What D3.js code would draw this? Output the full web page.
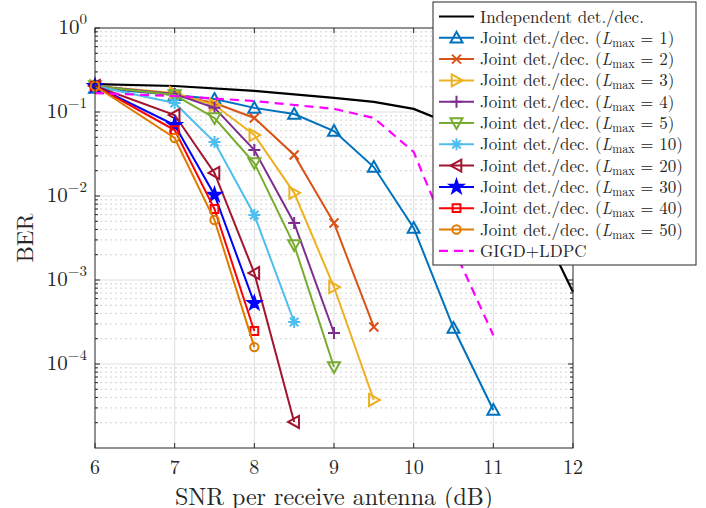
<!DOCTYPE html>
<meta charset="utf-8">
<style>
body { margin: 0; background: #fff; }
text { font-family: "Latin Modern Roman", "CMU Serif", "DejaVu Serif", serif; fill: #262626; }
.grid-major line { stroke: #dedede; stroke-width: 1; }
.grid-minor line { stroke: #d2d2d2; stroke-width: 1; stroke-dasharray: 2,3; }
.series path.line { fill: none; stroke-width: 2; }
</style>
<svg width="706" height="508"></svg>
<script src="https://d3js.org/d3.v7.min.js"></script>
<script>

// SNR grid (dB)
var jointSnr = [6, 7, 7.5, 8, 8.5, 9, 9.5, 10, 10.5, 11];
var indepSnr = [6, 7, 8, 9, 9.5, 10, 10.5, 11, 11.5, 12];
var gigdSnr = [6, 7, 8, 9, 9.5, 10, 10.5, 11];

// BER values
var indepBer = [0.215, 0.204, 0.178, 0.147, 0.132, 0.109, 0.070, 0.0268, 0.0068, 7.2e-4];
var gigdBer = [0.168, 0.155, 0.135, 0.109, 0.0849, 0.0334, 0.0024, 2.2e-4];
var berL1 = [0.193, 0.159, 0.143, 0.112, 0.0947, 0.0594, 0.0221, 0.00416, 2.68e-4, 2.83e-5];
var berL2 = [0.204, 0.159, 0.128, 0.0849, 0.0308, 0.00477, 2.76e-4];
var berL3 = [0.204, 0.168, 0.121, 0.0532, 0.0109, 8.25e-4, 3.73e-5];
var berL4 = [0.204, 0.164, 0.112, 0.0353, 0.00477, 2.34e-4];
var berL5 = [0.204, 0.159, 0.0849, 0.0247, 0.00261, 9.2e-5];
var berL10 = [0.204, 0.128, 0.0439, 0.00594, 3.16e-4];
var berL20 = [0.204, 0.092, 0.0188, 0.00121, 2.04e-5];
var berL30 = [0.204, 0.070, 0.0103, 5.3e-4];
var berL40 = [0.204, 0.061, 0.0070, 2.47e-4];
var berL50 = [0.204, 0.049, 0.00518, 1.59e-4];

var lmaxValues = [1, 2, 3, 4, 5, 10, 20, 30, 40, 50];
var jointBer = [berL1, berL2, berL3, berL4, berL5, berL10, berL20, berL30, berL40, berL50];

var xTicks = [6, 7, 8, 9, 10, 11, 12];
var yExps = [0, -1, -2, -3, -4];

// styles
var colors = ["#0072BD", "#D95319", "#EDB120", "#7E2F8E", "#77AC30", "#4DBEEE", "#A2142F", "#0000FF", "#FF0000", "#E07B00"];
var markers = ["triUp", "x", "triRight", "plus", "triDown", "asterisk", "triLeft", "star", "square", "circle"];

var svg = d3.select("svg"),
    margin = {top: 28, right: 133, bottom: 60, left: 95},
    width = 706 - margin.left - margin.right,
    height = 508 - margin.top - margin.bottom,
    g = svg.append("g").attr("transform", "translate(" + margin.left + "," + margin.top + ")");

var x = d3.scaleLinear().domain([6, 12]).range([0, width]);
var y = d3.scaleLog().domain([1e-5, 1]).range([height, 0]);

// minor log values
var minorY = [];
for (var e = -5; e < 0; e++) {
    for (var m = 2; m <= 9; m++) minorY.push(m * Math.pow(10, e));
}

g.append("g").attr("class", "grid-minor")
  .selectAll("line").data(minorY).enter().append("line")
    .attr("x1", 0).attr("x2", width)
    .attr("y1", function(d) { return y(d); }).attr("y2", function(d) { return y(d); });

var gm = g.append("g").attr("class", "grid-major");
gm.selectAll("line.v").data(xTicks.slice(1, -1)).enter().append("line").attr("class", "v")
    .attr("x1", function(d) { return x(d); }).attr("x2", function(d) { return x(d); })
    .attr("y1", 0).attr("y2", height);
gm.selectAll("line.h").data(yExps.slice(1)).enter().append("line").attr("class", "h")
    .attr("x1", 0).attr("x2", width)
    .attr("y1", function(d) { return y(Math.pow(10, d)); }).attr("y2", function(d) { return y(Math.pow(10, d)); });

function markerPath(type, r) {
    var h = r * 0.8;
    switch (type) {
        case "triUp": return "M0," + (-r) + "L" + r + "," + h + "L" + (-r) + "," + h + "Z";
        case "triDown": return "M0," + r + "L" + r + "," + (-h) + "L" + (-r) + "," + (-h) + "Z";
        case "triRight": return "M" + r + ",0L" + (-h) + "," + (-r) + "L" + (-h) + "," + r + "Z";
        case "triLeft": return "M" + (-r) + ",0L" + h + "," + (-r) + "L" + h + "," + r + "Z";
        case "x": var a = r * 0.75; return "M" + (-a) + "," + (-a) + "L" + a + "," + a + "M" + (-a) + "," + a + "L" + a + "," + (-a);
        case "plus": return "M" + (-r) + ",0L" + r + ",0M0," + (-r) + "L0," + r;
        case "asterisk": var b = r * 0.7; return "M" + (-r) + ",0L" + r + ",0M0," + (-r) + "L0," + r +
            "M" + (-b) + "," + (-b) + "L" + b + "," + b + "M" + (-b) + "," + b + "L" + b + "," + (-b);
        case "square": var s = r * 0.65; return "M" + (-s) + "," + (-s) + "h" + (2 * s) + "v" + (2 * s) + "h" + (-2 * s) + "Z";
        case "circle": var c = r * 0.7; return "M" + c + ",0A" + c + "," + c + " 0 1,1 " + (-c) + ",0A" + c + "," + c + " 0 1,1 " + c + ",0Z";
        case "star":
            var p = "";
            for (var i = 0; i < 10; i++) {
                var rr = i % 2 ? r * 0.45 : r * 1.15, ang = -Math.PI / 2 + i * Math.PI / 5;
                p += (i ? "L" : "M") + (rr * Math.cos(ang)).toFixed(2) + "," + (rr * Math.sin(ang)).toFixed(2);
            }
            return p + "Z";
    }
}

var line = d3.line().x(function(d) { return x(d[0]); }).y(function(d) { return y(d[1]); });

// independent
g.append("path").attr("d", line(d3.zip(indepSnr, indepBer)))
    .attr("fill", "none").attr("stroke", "#000").attr("stroke-width", 2.2);

// joint series
for (var i = 0; i < lmaxValues.length; i++) {
    var pts = d3.zip(jointSnr.slice(0, jointBer[i].length), jointBer[i]);
    var s = g.append("g").attr("class", "series");
    s.append("path").attr("class", "line").attr("d", line(pts)).attr("stroke", colors[i]);
    s.selectAll("path.mk").data(pts).enter().append("path").attr("class", "mk")
        .attr("transform", function(d) { return "translate(" + x(d[0]) + "," + y(d[1]) + ")"; })
        .attr("d", markerPath(markers[i], 6))
        .attr("fill", markers[i] === "star" ? colors[i] : "none")
        .attr("stroke", colors[i]).attr("stroke-width", 2);
}

// GIGD + LDPC
g.append("path").attr("d", line(d3.zip(gigdSnr, gigdBer)))
    .attr("fill", "none").attr("stroke", "#FF00FF").attr("stroke-width", 2.2)
    .attr("stroke-dasharray", "9,6");

// axes box
g.append("rect").attr("width", width).attr("height", height)
    .attr("fill", "none").attr("stroke", "#262626").attr("stroke-width", 1);

var ticks = g.append("g").attr("stroke", "#262626").attr("stroke-width", 1);
xTicks.forEach(function(t) {
    ticks.append("line").attr("x1", x(t)).attr("x2", x(t)).attr("y1", height).attr("y2", height - 5);
    ticks.append("line").attr("x1", x(t)).attr("x2", x(t)).attr("y1", 0).attr("y2", 5);
});
yExps.forEach(function(e) {
    var yy = y(Math.pow(10, e));
    ticks.append("line").attr("x1", 0).attr("x2", 5).attr("y1", yy).attr("y2", yy);
    ticks.append("line").attr("x1", width).attr("x2", width - 5).attr("y1", yy).attr("y2", yy);
});
minorY.forEach(function(v) {
    ticks.append("line").attr("x1", 0).attr("x2", 3).attr("y1", y(v)).attr("y2", y(v));
    ticks.append("line").attr("x1", width).attr("x2", width - 3).attr("y1", y(v)).attr("y2", y(v));
});

// tick labels
g.selectAll("text.xt").data(xTicks).enter().append("text").attr("class", "xt")
    .attr("x", function(d) { return x(d); }).attr("y", height + 26)
    .attr("text-anchor", "middle").attr("font-size", 20).text(function(d) { return d; });

yExps.forEach(function(e) {
    var t = g.append("text").attr("x", -8).attr("y", y(Math.pow(10, e)) + 6)
        .attr("text-anchor", "end").attr("font-size", 21);
    t.append("tspan").text("10");
    t.append("tspan").attr("dy", -10).attr("font-size", 15).text(e === 0 ? "0" : "\u2212" + (-e));
});

svg.append("text").attr("x", margin.left + width / 2).attr("y", 505)
    .attr("text-anchor", "middle").attr("font-size", 24).text("SNR per receive antenna (dB)");
svg.append("text").attr("transform", "translate(33," + (margin.top + height / 2) + ") rotate(-90)")
    .attr("text-anchor", "middle").attr("font-size", 23).text("BER");

// legend
var leg = svg.append("g").attr("transform", "translate(433,2)");
leg.append("rect").attr("width", 263).attr("height", 263)
    .attr("fill", "#fff").attr("stroke", "#262626").attr("stroke-width", 1);
var rowH = 21.3, y0 = 14.5;

function legText(yy, main, lmax) {
    var t = leg.append("text").attr("x", 47).attr("y", yy + 6).attr("font-size", 17);
    t.append("tspan").text(main);
    if (lmax !== undefined) {
        t.append("tspan").text(" (");
        t.append("tspan").attr("font-style", "italic").text("L");
        t.append("tspan").attr("font-size", 12).attr("dy", 3).text("max");
        t.append("tspan").attr("dy", -3).text(" = " + lmax + ")");
    }
}

leg.append("line").attr("x1", 6).attr("x2", 41).attr("y1", y0).attr("y2", y0)
    .attr("stroke", "#000").attr("stroke-width", 2.2);
legText(y0, "Independent det./dec.");
lmaxValues.forEach(function(L, i) {
    var yy = y0 + rowH * (i + 1);
    leg.append("line").attr("x1", 6).attr("x2", 41).attr("y1", yy).attr("y2", yy)
        .attr("stroke", colors[i]).attr("stroke-width", 2);
    leg.append("path").attr("transform", "translate(23.5," + yy + ")")
        .attr("d", markerPath(markers[i], 6))
        .attr("fill", markers[i] === "star" ? colors[i] : "none")
        .attr("stroke", colors[i]).attr("stroke-width", 2);
    legText(yy, "Joint det./dec.", L);
});
var yg = y0 + rowH * 11;
leg.append("line").attr("x1", 6).attr("x2", 41).attr("y1", yg).attr("y2", yg)
    .attr("stroke", "#FF00FF").attr("stroke-width", 2.2).attr("stroke-dasharray", "9,6");
legText(yg, "GIGD+LDPC");

</script>
